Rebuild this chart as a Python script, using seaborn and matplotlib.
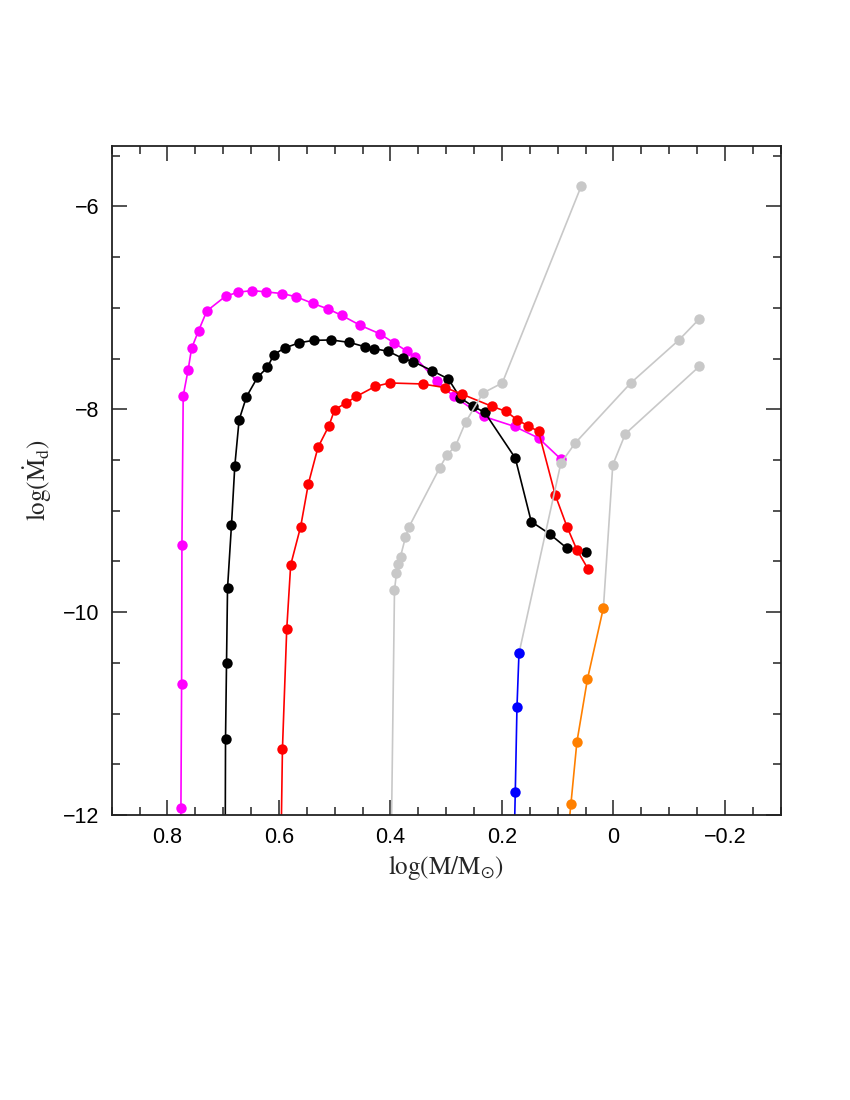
# -*- coding: utf-8 -*-
import numpy as np
import pandas as pd
import seaborn as sns
import matplotlib.pyplot as plt
from matplotlib.ticker import MultipleLocator

# log(M/Msun) , log(Mdot_d) (last point of some tracks lies below the frame)
magenta_x = [0.776, 0.7758, 0.7746, 0.7740, 0.7717, 0.7628, 0.7567, 0.7441, 0.7293, 0.6958,
             0.6738, 0.6487, 0.6231, 0.5937, 0.5687, 0.5395, 0.5121, 0.4876, 0.4541, 0.4195,
             0.3932, 0.3699, 0.3563, 0.3162, 0.2865, 0.2328, 0.1773, 0.1343, 0.0942]
magenta_y = [-12.5, -11.93, -10.71, -9.34, -7.866, -7.609, -7.399, -7.224, -7.030, -6.885,
             -6.846, -6.829, -6.842, -6.859, -6.891, -6.955, -7.010, -7.073, -7.172, -7.254,
             -7.346, -7.428, -7.484, -7.725, -7.873, -8.070, -8.169, -8.283, -8.491]

black_x = [0.6965, 0.6958, 0.6940, 0.6922, 0.6851, 0.6791, 0.6714, 0.6582, 0.6385, 0.6206,
           0.6093, 0.5896, 0.5633, 0.5377, 0.5060, 0.4738, 0.4464, 0.4290, 0.4039, 0.3778,
           0.3592, 0.3252, 0.2960, 0.2745, 0.2517, 0.2310, 0.1760, 0.1474, 0.1146, 0.0834,
           0.0494]
black_y = [-12.5, -11.252, -10.498, -9.764, -9.139, -8.554, -8.103, -7.876, -7.685, -7.586,
           -7.461, -7.395, -7.343, -7.320, -7.316, -7.340, -7.382, -7.402, -7.428, -7.498,
           -7.530, -7.619, -7.701, -7.888, -7.971, -8.029, -8.481, -9.107, -9.228, -9.369,
           -9.406]

red_x = [0.5968, 0.5937, 0.5860, 0.5789, 0.5610, 0.5472, 0.5300, 0.5103, 0.5001, 0.4791,
         0.4612, 0.4272, 0.4016, 0.3420, 0.3013, 0.2714, 0.2177, 0.1921, 0.1730, 0.1533,
         0.1343, 0.1044, 0.0834, 0.0655, 0.0458]
red_y = [-12.5, -11.350, -10.169, -9.534, -9.156, -8.734, -8.376, -8.162, -8.004, -7.935,
         -7.873, -7.774, -7.740, -7.750, -7.787, -7.851, -7.971, -8.021, -8.103, -8.162,
         -8.218, -8.843, -9.156, -9.386, -9.571]

gray1_x = [0.399, 0.3927, 0.3891, 0.3868, 0.3819, 0.3730, 0.3671, 0.3116, 0.2983, 0.2834,
           0.2650, 0.2338, 0.1993, 0.0578]
gray1_y = [-12.5, -9.781, -9.616, -9.527, -9.452, -9.261, -9.164, -8.577, -8.448, -8.364,
           -8.125, -7.839, -7.740, -5.800]

gray2_x = [0.1694, 0.0942, 0.0686, -0.0312, -0.1182, -0.1540]
gray2_y = [-10.406, -8.530, -8.333, -7.740, -7.313, -7.109]

gray3_x = [0.0179, 0.0011, -0.0215, -0.1540]
gray3_y = [-9.956, -8.547, -8.241, -7.577]

blue_x = [0.179, 0.1760, 0.1730, 0.1694]
blue_y = [-12.5, -11.772, -10.939, -10.406]

orange_x = [0.087, 0.0763, 0.0655, 0.0466, 0.0179]
orange_y = [-12.5, -11.896, -11.281, -10.662, -9.956]

tracks = [
    (magenta_x, magenta_y, '#ff00ff'),
    (black_x, black_y, 'black'),
    (red_x, red_y, '#ff0000'),
    (gray1_x, gray1_y, '#c8c8c8'),
    (gray2_x, gray2_y, '#c8c8c8'),
    (gray3_x, gray3_y, '#c8c8c8'),
    (blue_x, blue_y, '#0000ff'),
    (orange_x, orange_y, '#ff8000'),
]

sns.set_style('ticks')
plt.rcParams['font.family'] = ['Liberation Sans', 'DejaVu Sans']
plt.rcParams['mathtext.fontset'] = 'stix'

fig = plt.figure(figsize=(8.5, 11), dpi=100)
ax = fig.add_axes([0.1314, 0.2591, 0.787, 0.6085])

for xs, ys, c in tracks:
    df = pd.DataFrame({'x': xs, 'y': ys})
    sns.lineplot(data=df, x='x', y='y', sort=False, estimator=None, color=c,
                 marker='o', markersize=7.5, markeredgewidth=0, linewidth=1.2,
                 ax=ax, clip_on=True)

ax.set_xlim(0.9, -0.3)
ax.set_ylim(-12, -5.4)
ax.xaxis.set_minor_locator(MultipleLocator(0.05))
ax.yaxis.set_minor_locator(MultipleLocator(0.5))
ax.set_xticks([0.8, 0.6, 0.4, 0.2, 0, -0.2])
ax.set_xticklabels(['0.8', '0.6', '0.4', '0.2', '0', '\u22120.2'])
ax.set_yticks([-12, -10, -8, -6])
ax.set_yticklabels(['\u221212', '\u221210', '\u22128', '\u22126'])

ax.tick_params(which='both', direction='in', top=True, right=True, width=1.1,
               colors='#222222', labelcolor='black', labelsize=15.5)
ax.tick_params(which='major', length=11, pad=9)
ax.tick_params(which='minor', length=5.5)
for s in ax.spines.values():
    s.set_linewidth(1.3)
    s.set_color('#222222')

ax.set_xlabel(r'$\log({\rm M}/{\rm M}_{\odot})$', fontsize=18, labelpad=3)
ax.set_ylabel(r'$\log(\dot{\rm M}_{\rm d})$', fontsize=18, labelpad=6)

fig.savefig('out.png', dpi=100)
